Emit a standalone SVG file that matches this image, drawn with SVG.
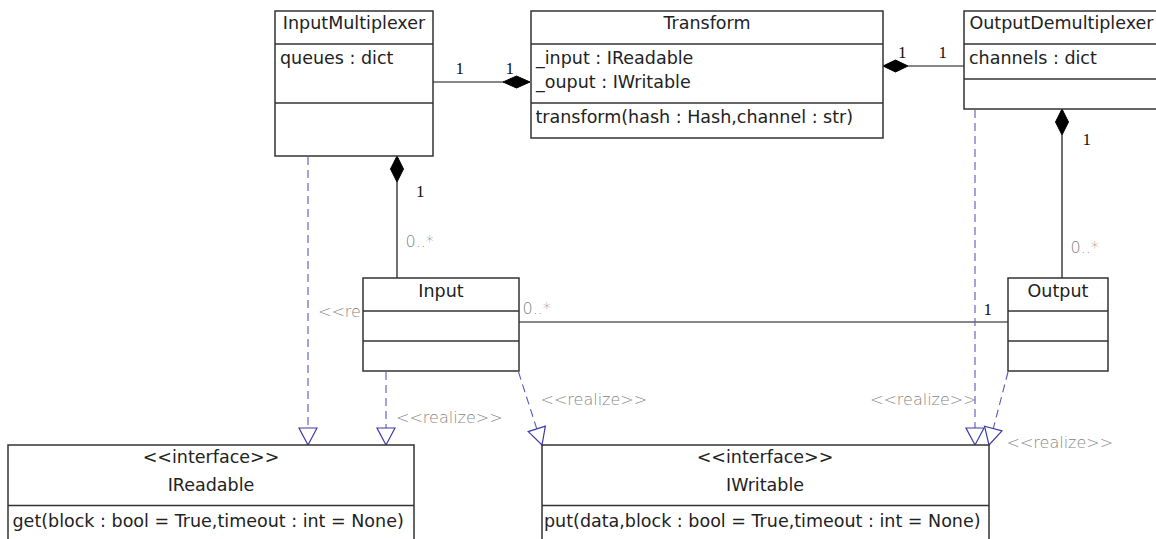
<svg xmlns="http://www.w3.org/2000/svg" width="1156" height="539" viewBox="0 0 1156 539">
<style>
.box{fill:#fff;stroke:#333;stroke-width:1.5}
.div{stroke:#333;stroke-width:1.5}
.t{font-family:"DejaVu Sans",sans-serif;font-size:17.5px;fill:#222}
.c{text-anchor:middle}
.assoc{stroke:#111;stroke-width:1.2;fill:none}
.dia{fill:#000;stroke:#000;stroke-width:1}
.real{stroke:#5a5ab8;stroke-width:1.1;stroke-dasharray:8 5;fill:none}
.m{font-family:"Liberation Serif",serif;font-size:17px;fill:#111}
.g{font-family:"DejaVu Sans",sans-serif;font-size:16px;fill:#858585;font-weight:200}
</style>
<defs>
<marker id="tri" markerUnits="userSpaceOnUse" markerWidth="19" markerHeight="20" refX="17" refY="9" orient="auto" overflow="visible">
<path d="M0,0 L17,9 L0,18 Z" fill="#fff" stroke="#3a3aa8" stroke-width="1.2" stroke-dasharray="none"/>
</marker>
</defs>
<rect width="1156" height="539" fill="#fff"/>
<g id="connectors">
<line class="assoc" x1="433" y1="82" x2="504" y2="82"/>
<polygon class="dia" points="503,82 516.5,76 530,82 516.5,88"/>
<line class="assoc" x1="908" y1="66" x2="964" y2="66"/>
<polygon class="dia" points="883,66 895.5,60 908,66 895.5,72"/>
<line class="assoc" x1="397" y1="182" x2="397" y2="278"/>
<polygon class="dia" points="397,156 403.5,169 397,182 390.5,169"/>
<line class="assoc" x1="1062" y1="135" x2="1062" y2="278"/>
<polygon class="dia" points="1062,109 1068.5,122 1062,135 1055.5,122"/>
<line class="assoc" x1="519" y1="322" x2="1008" y2="322"/>
<path class="real" d="M308,157 L308,445" marker-end="url(#tri)"/>
<path class="real" d="M386,372 L386,445" marker-end="url(#tri)"/>
<path class="real" d="M518.5,372 L542,445" marker-end="url(#tri)"/>
<path class="real" d="M975,110 L975,445" marker-end="url(#tri)"/>
<path class="real" d="M1008,372 L989,445" marker-end="url(#tri)"/>
<text class="m" x="455.5" y="74">1</text>
<text class="m" x="505.5" y="74">1</text>
<text class="m" x="898" y="58">1</text>
<text class="m" x="938.5" y="58">1</text>
<text class="m" x="1082.5" y="145">1</text>
<text class="m" x="416" y="197">1</text>
<text class="m" x="983.5" y="315">1</text>
<text class="g" x="405.5" y="247">0..*</text>
<text class="g" x="1070.5" y="253">0..*</text>
<text class="g" x="522.5" y="314">0..*</text>
<text class="g" x="318" y="317">&lt;&lt;re</text>
<text class="g" x="396" y="423">&lt;&lt;realize&gt;&gt;</text>
<text class="g" x="540.5" y="405">&lt;&lt;realize&gt;&gt;</text>
<text class="g" x="870" y="405">&lt;&lt;realize&gt;&gt;</text>
<text class="g" x="1006.5" y="448">&lt;&lt;realize&gt;&gt;</text>
</g>
<g id="InputMultiplexer">
<rect class="box" x="275" y="11" width="158" height="145"/>
<line class="div" x1="275" y1="44" x2="433" y2="44"/>
<line class="div" x1="275" y1="103" x2="433" y2="103"/>
<text class="t c" x="354" y="29">InputMultiplexer</text>
<text class="t" x="280" y="64">queues : dict</text>
</g>
<g id="Transform">
<rect class="box" x="531" y="11" width="352" height="127"/>
<line class="div" x1="531" y1="44" x2="883" y2="44"/>
<line class="div" x1="531" y1="103" x2="883" y2="103"/>
<text class="t c" x="707" y="29">Transform</text>
<text class="t" x="536" y="64">_input : IReadable</text>
<text class="t" x="536" y="88">_ouput : IWritable</text>
<text class="t" x="535.5" y="123">transform(hash : Hash,channel : str)</text>
</g>
<g id="OutputDemultiplexer">
<rect class="box" x="964" y="11" width="200" height="98"/>
<line class="div" x1="964" y1="44" x2="1164" y2="44"/>
<line class="div" x1="964" y1="79" x2="1164" y2="79"/>
<text class="t" x="969.5" y="29">OutputDemultiplexer</text>
<text class="t" x="969" y="64">channels : dict</text>
</g>
<g id="Input">
<rect class="box" x="363" y="278" width="156" height="93"/>
<line class="div" x1="363" y1="311" x2="519" y2="311"/>
<line class="div" x1="363" y1="341" x2="519" y2="341"/>
<text class="t c" x="441" y="297">Input</text>
</g>
<g id="Output">
<rect class="box" x="1008" y="278" width="100" height="93"/>
<line class="div" x1="1008" y1="311" x2="1108" y2="311"/>
<line class="div" x1="1008" y1="341" x2="1108" y2="341"/>
<text class="t c" x="1058" y="297">Output</text>
</g>
<g id="IReadable">
<rect class="box" x="8" y="445" width="406" height="100"/>
<line class="div" x1="8" y1="505.5" x2="414" y2="505.5"/>
<text class="t c" x="211" y="463">&lt;&lt;interface&gt;&gt;</text>
<text class="t c" x="211" y="491">IReadable</text>
<text class="t" x="12.5" y="527">get(block : bool = True,timeout : int = None)</text>
</g>
<g id="IWritable">
<rect class="box" x="542" y="445" width="447" height="100"/>
<line class="div" x1="542" y1="505.5" x2="989" y2="505.5"/>
<text class="t c" x="765" y="463">&lt;&lt;interface&gt;&gt;</text>
<text class="t c" x="765" y="491">IWritable</text>
<text class="t" x="544" y="527">put(data,block : bool = True,timeout : int = None)</text>
</g>
</svg>
